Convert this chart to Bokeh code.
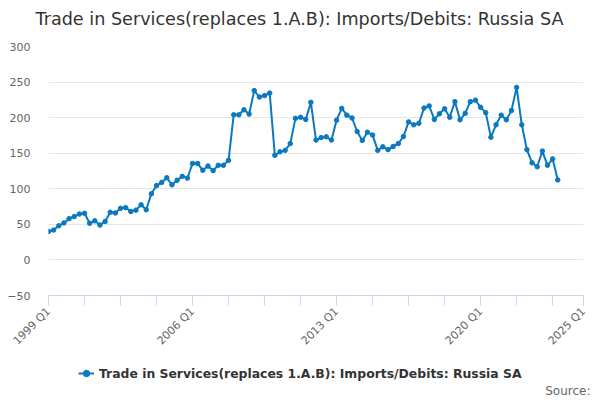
import math
from bokeh.plotting import figure
from bokeh.layouts import column
from bokeh.models import (Range1d, FixedTicker, ColumnDataSource, Legend, LegendItem, Label)
from bokeh.embed import file_html
from bokeh.resources import INLINE

# ---- data ----
start_year = 1999
values = [
    40, 42, 48, 52, 58, 61, 64.5, 65.5, 51.5, 55, 49, 54,
    67, 66, 72.5, 73.5, 68, 70, 77.5, 70.5, 93, 104.5, 109, 115.5,
    105.5, 112, 117.5, 115, 135.5, 135.5, 126, 132, 125.5, 133, 133, 140,
    204, 204, 211, 205, 238, 229, 231, 234.5, 147, 152, 154, 163.5,
    199, 200.5, 197.5, 221.5, 168.5, 172, 173, 168.5, 196.5, 213, 203.5, 199.5,
    180.5, 168, 179.5, 175.5, 154, 159, 155, 159.5, 163.5, 173.5, 194, 190,
    192, 213.5, 216.5, 197.5, 205.5, 212.5, 200.5, 222.5, 197, 206, 222.5, 224.5,
    214.5, 207, 172.5, 190, 203.5, 197, 210, 242.5, 190, 155, 136.5, 131,
    153, 133, 142, 112.5,
]
quarters = ["%d Q%d" % (start_year + i // 4, i % 4 + 1) for i in range(len(values))]
x_idx = list(range(len(values)))
y_ticks = [-50, 0, 50, 100, 150, 200, 250, 300]
x_tick_idx = [0, 7, 14, 21, 28, 35, 42, 49, 56, 63, 70, 77, 84, 91, 98, 104]
x_tick_labels = {0: "1999 Q1", 28: "2006 Q1", 56: "2013 Q1", 84: "2020 Q1", 104: "2025 Q1"}
series_name = "Trade in Services(replaces 1.A.B): Imports/Debits: Russia SA"
title_text = "Trade in Services(replaces 1.A.B): Imports/Debits: Russia SA"
source_text = "Source:"

color = "#0b79bf"
W = 598
HT, HM, HB = 36, 319, 43   # title strip, main chart, legend strip


def blank(h):
    f = figure(width=W, height=h, output_backend="svg", toolbar_location=None,
               x_range=Range1d(0, W), y_range=Range1d(0, h),
               x_axis_location=None, y_axis_location=None,
               min_border_left=0, min_border_right=0, min_border_top=0, min_border_bottom=0)
    f.outline_line_color = None
    f.grid.grid_line_color = None
    try:
        f.frame_align = False
    except Exception:
        pass
    return f


# ---- title strip ----
pt = blank(HT)
pt.add_layout(Label(x=W / 2, y=HT - 18, x_units="screen", y_units="screen",
                    text=title_text, text_align="center", text_baseline="middle",
                    text_font="DejaVu Sans", text_font_size="17.6px", text_color="#333333"))

# ---- main chart ----
src = ColumnDataSource(dict(x=x_idx, y=values, q=quarters))
FT = 46 - HT
FB = HT + HM - 297
p = figure(width=W, height=HM, output_backend="svg", toolbar_location=None,
           x_range=Range1d(0, 104), y_range=Range1d(-50, 300),
           min_border_left=48, min_border_right=W - 583, min_border_top=FT, min_border_bottom=FB)
p.outline_line_color = None
p.background_fill_color = "white"
p.border_fill_color = "white"

p.line("x", "y", source=src, line_color=color, line_width=2)
p.scatter("x", "y", source=src, size=4.5, fill_color=color, line_color=color)

p.yaxis.ticker = FixedTicker(ticks=y_ticks)
p.yaxis.axis_line_color = None
p.yaxis.major_tick_line_color = None
p.yaxis.major_tick_out = 0
p.yaxis.major_tick_in = 0
p.yaxis.minor_tick_line_color = None
p.yaxis.major_label_text_color = "#666666"
p.yaxis.major_label_text_font = "DejaVu Sans"
p.yaxis.major_label_text_font_size = "11px"
p.yaxis.major_label_standoff = 18

p.xaxis.ticker = FixedTicker(ticks=x_tick_idx)
p.xaxis.major_label_overrides = {t: x_tick_labels.get(t, "") for t in x_tick_idx}
p.xaxis.axis_line_color = "#ccd6eb"
p.xaxis.major_tick_line_color = "#ccd6eb"
p.xaxis.major_tick_out = 10
p.xaxis.major_tick_in = 0
p.xaxis.minor_tick_line_color = None
p.xaxis.major_label_orientation = math.pi / 4
p.xaxis.major_label_text_color = "#666666"
p.xaxis.major_label_text_font = "DejaVu Sans"
p.xaxis.major_label_text_font_size = "11px"
p.xaxis.major_label_standoff = 4

p.xgrid.grid_line_color = None
p.ygrid.ticker = FixedTicker(ticks=y_ticks)
p.ygrid.grid_line_color = "#e6e6e6"

# ---- legend / source strip ----
pb = blank(HB)
legend_src = ColumnDataSource(dict(x=[float("nan")], y=[float("nan")]))
gl = pb.line("x", "y", source=legend_src, line_color=color, line_width=2)
gs = pb.scatter("x", "y", source=legend_src, size=4.5, fill_color=color, line_color=color)
legend = Legend(items=[LegendItem(label=series_name, renderers=[gl, gs])],
                location=(78, HB - 18 - 8), orientation="horizontal",
                label_text_font="DejaVu Sans", label_text_font_style="bold",
                label_text_font_size="12.4px", label_text_color="#333333",
                background_fill_alpha=0, border_line_color=None,
                padding=0, margin=0, glyph_width=16, glyph_height=16,
                label_height=16, label_standoff=5, spacing=0)
pb.add_layout(legend, "center")
pb.add_layout(Label(x=W - 8, y=8, x_units="screen", y_units="screen",
                    text=source_text, text_align="right", text_baseline="middle",
                    text_font="DejaVu Sans", text_font_size="12px", text_color="#666666"))

layout = column(pt, p, pb, spacing=0)
open("out.html", "w").write(file_html(layout, INLINE))
